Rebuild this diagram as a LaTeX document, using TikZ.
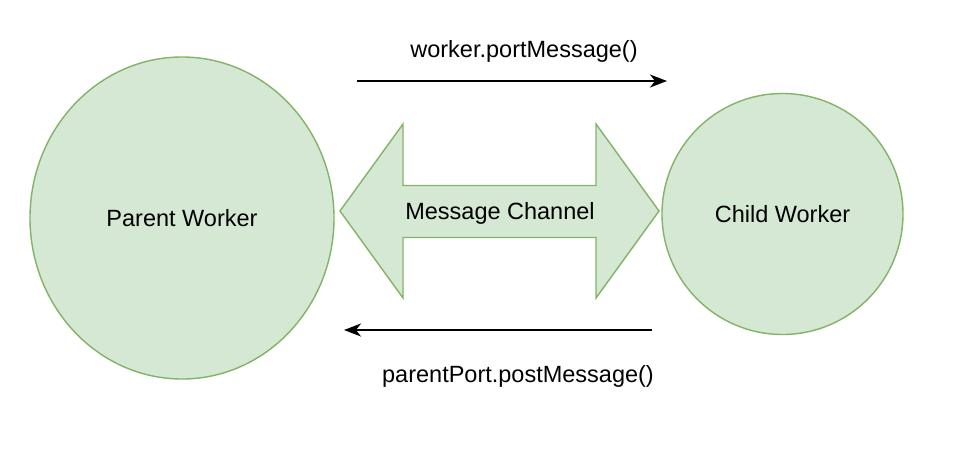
\documentclass[tikz,border=0pt]{standalone}
\usepackage{fontspec}
\setmainfont{Liberation Sans}
\usetikzlibrary{shapes.geometric, arrows.meta}

\definecolor{wfill}{HTML}{D5E8D4}
\definecolor{wline}{HTML}{82B366}

\begin{document}
\begin{tikzpicture}[
    x=1pt, y=-1pt,
    worker/.style={ellipse, draw=wline, fill=wfill, line width=1.4pt, inner sep=0pt, font=\fontsize{23.5}{28}\selectfont},
    label/.style={font=\fontsize{23.5}{28}\selectfont, inner sep=0pt},
    arrow/.style={-{Stealth[length=17pt,width=13pt,inset=5pt]}, line width=1.8pt}
]
    \useasboundingbox (0,0) rectangle (958,460);

    % Workers
    \node[worker, minimum width=304pt, minimum height=322pt] (parent) at (182,218) {Parent Worker};
    \node[worker, minimum width=241pt, minimum height=241pt] (child) at (782.5,214) {Child Worker};

    % Channel
    \draw[draw=wline, fill=wfill, line width=1.4pt]
        (340,211) -- (403,124) -- (403,185.5) -- (596,185.5) -- (596,124) -- (659,211)
        -- (596,298) -- (596,237.5) -- (403,237.5) -- (403,298) -- cycle;
    \node[label] (channel) at (500,213) {Message Channel};

    % Messages
    \coordinate (top start) at (357,81);
    \coordinate (top end) at (667,81);
    \coordinate (bot start) at (652,330);
    \coordinate (bot end) at (344,330);
    \node[label] (send) at (524,51) {worker.portMessage()};
    \node[label] (reply) at (518,376) {parentPort.postMessage()};

    % Arrows
    \draw[arrow] (top start) -- (top end);
    \draw[arrow] (bot start) -- (bot end);

\end{tikzpicture}
\end{document}
